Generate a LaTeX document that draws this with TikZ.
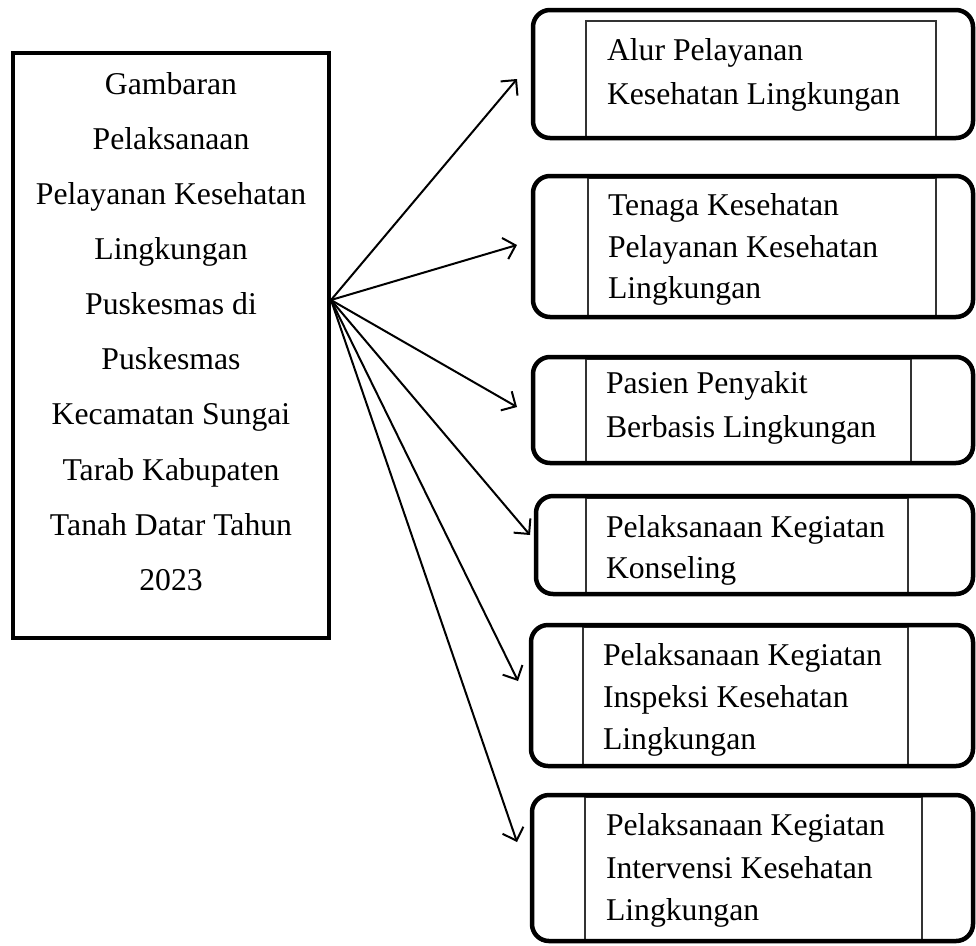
\documentclass[tikz,border=0pt]{standalone}
\usepackage{fontspec}
\setmainfont{Liberation Serif}
\usetikzlibrary{arrows.meta}
\tikzset{
  outerbox/.style={draw=black, line width=4.5pt, rounded corners=17pt, shape=rectangle, inner sep=0pt, outer sep=0pt},
  innerbox/.style={draw=black!80, line width=1.2pt, shape=rectangle, inner sep=0pt, outer sep=0pt},
  mainbox/.style={draw=black, line width=3.8pt, shape=rectangle, inner sep=0pt, outer sep=0pt},
  labeltext/.style={inner sep=0pt, outer sep=0pt, anchor=north west, align=left},
  conn/.style={line width=2pt, -{Straight Barb[length=11pt,width=22pt,line width=2pt]}}
}
\begin{document}
\begin{tikzpicture}[x=1pt,y=-1pt]
\useasboundingbox (0,0) rectangle (976,945);

% left box
\node[mainbox, minimum width=316pt, minimum height=585pt] (main) at (171,345.5) {};
\node[inner sep=0pt, outer sep=0pt, anchor=north, align=center,
      font=\fontsize{31.7}{55.1}\selectfont] (maintext) at (171,72.3)
  {Gambaran\\Pelaksanaan\\Pelayanan Kesehatan\\Lingkungan\\Puskesmas di\\Puskesmas\\Kecamatan Sungai\\Tarab Kabupaten\\Tanah Datar Tahun\\2023};

% inner boxes
\node[innerbox, minimum width=350pt, minimum height=116pt] (i1) at (761,79) {};
\node[innerbox, minimum width=348pt, minimum height=138pt] (i2) at (762,247) {};
\node[innerbox, minimum width=325pt, minimum height=103pt] (i3) at (748.5,410.5) {};
\node[innerbox, minimum width=322pt, minimum height=95pt] (i4) at (747,545.5) {};
\node[innerbox, minimum width=325pt, minimum height=138pt] (i5) at (745.5,696) {};
\node[innerbox, minimum width=337pt, minimum height=143pt] (i6) at (753.5,868.5) {};

% outer rounded boxes
\node[outerbox, minimum width=440pt, minimum height=128pt] (o1) at (753,74) {};
\node[outerbox, minimum width=440pt, minimum height=141pt] (o2) at (753,246.5) {};
\node[outerbox, minimum width=440pt, minimum height=106pt] (o3) at (753,410) {};
\node[outerbox, minimum width=437pt, minimum height=98pt] (o4) at (754.5,545) {};
\node[outerbox, minimum width=442pt, minimum height=141pt] (o5) at (752,695.5) {};
\node[outerbox, minimum width=441pt, minimum height=146pt] (o6) at (752.5,868) {};

% texts
\node[labeltext, font=\fontsize{31.7}{44}\selectfont] (t1) at (607,38.3) {Alur Pelayanan\\Kesehatan Lingkungan};
\node[labeltext, font=\fontsize{31.7}{41.5}\selectfont] (t2) at (608,193.8) {Tenaga Kesehatan\\Pelayanan Kesehatan\\Lingkungan};
\node[labeltext, font=\fontsize{31.7}{44}\selectfont] (t3) at (606,371.8) {Pasien Penyakit\\Berbasis Lingkungan};
\node[labeltext, font=\fontsize{31.7}{41}\selectfont] (t4) at (606,515.8) {Pelaksanaan Kegiatan\\Konseling};
\node[labeltext, font=\fontsize{31.7}{42}\selectfont] (t5) at (603,643.8) {Pelaksanaan Kegiatan\\Inspeksi Kesehatan\\Lingkungan};
\node[labeltext, font=\fontsize{31.7}{42.5}\selectfont] (t6) at (606,813.8) {Pelaksanaan Kegiatan\\Intervensi Kesehatan\\Lingkungan};

% connectors
\coordinate (src) at (331,300);
\coordinate (e1) at (517,79);
\coordinate (e2) at (517,245);
\coordinate (e3) at (517,407);
\coordinate (e4) at (530,535);
\coordinate (e5) at (518,681);
\coordinate (e6) at (517,842);
\foreach \e in {e1,e2,e3,e4,e5,e6} \draw[conn] (src) -- (\e);
\end{tikzpicture}
\end{document}
